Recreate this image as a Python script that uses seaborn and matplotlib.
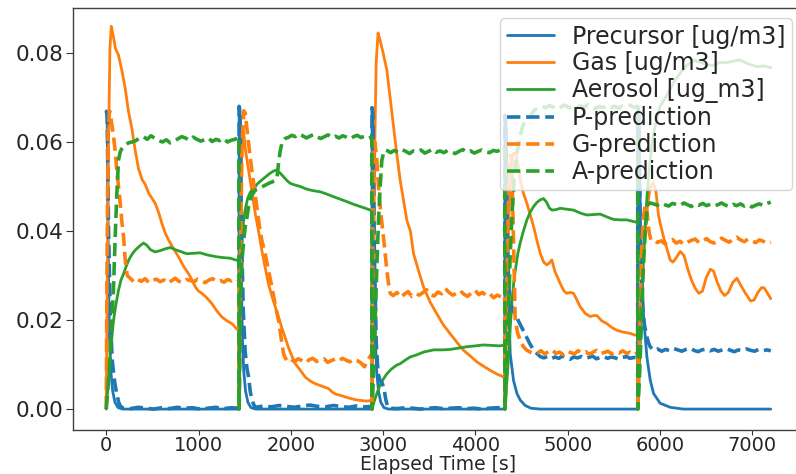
import numpy as np
import matplotlib
matplotlib.use("Agg")
import matplotlib.pyplot as plt
import seaborn as sns

sns.set_style("ticks")
plt.rcParams["font.family"] = ["DejaVu Sans"]

# ---- measured series (solid lines), all five 1440 s cycles ----
prec_t = [0, 10, 22, 35, 50, 70, 95, 130, 180, 1438,
          1440, 1450, 1462, 1475, 1490, 1510, 1535, 1570, 1620, 2878,
          2880, 2890, 2902, 2915, 2930, 2950, 2975, 3010, 3060, 4318,
          4320, 4332, 4345, 4377, 4413, 4450, 4486, 4540, 4600, 4700, 5758,
          5760, 5772, 5790, 5822, 5858, 5894, 5930, 6002, 6110, 6250, 7200]
prec_v = [0.067, 0.066, 0.035, 0.016, 0.0085, 0.004, 0.0015, 0.0003, 0.0, 0.0,
          0.068, 0.067, 0.035, 0.016, 0.0085, 0.004, 0.0015, 0.0003, 0.0, 0.0,
          0.0677, 0.066, 0.035, 0.016, 0.0085, 0.004, 0.0015, 0.0003, 0.0, 0.0,
          0.066, 0.064, 0.035, 0.0124, 0.0064, 0.0035, 0.002, 0.0008, 0.0002, 0.0, 0.0,
          0.068, 0.066, 0.04, 0.0207, 0.0117, 0.0065, 0.0035, 0.0013, 0.0004, 0.0, 0.0]

gas_t = [0, 12, 25, 40, 55, 75, 100, 133, 170, 206, 240, 278, 315, 350, 390, 422,
         460, 531, 570, 603, 640, 675, 730, 783, 840, 892, 930, 964, 1000, 1036,
         1080, 1145, 1200, 1253, 1310, 1361, 1415, 1438,
         1440, 1452, 1465, 1478, 1490, 1510, 1540, 1578, 1614, 1650, 1687, 1720,
         1759, 1800, 1831, 1870, 1903, 1940, 1975, 2010, 2048, 2100, 2156, 2210,
         2265, 2330, 2409, 2450, 2481, 2550, 2625, 2700, 2770, 2820, 2860, 2878,
         2880, 2895, 2910, 2925, 2945, 2965, 3000, 3040, 3075, 3113, 3150, 3185,
         3220, 3257, 3295, 3330, 3385, 3438, 3510, 3582, 3650, 3727, 3800, 3871,
         3940, 4016, 4090, 4160, 4230, 4305, 4318,
         4320, 4340, 4360, 4385, 4410, 4435, 4460, 4490, 4520, 4558, 4595, 4630,
         4665, 4702, 4740, 4774, 4800, 4828, 4860, 4919, 4960, 4991, 5030, 5063,
         5100, 5135, 5190, 5244, 5280, 5316, 5370, 5424, 5480, 5533, 5600, 5677,
         5731, 5758,
         5760, 5780, 5810, 5850, 5890, 5925, 5955, 5984, 6010, 6040, 6075, 6110,
         6140, 6175, 6220, 6260, 6300, 6340, 6380, 6420, 6460, 6500, 6545, 6580,
         6620, 6660, 6700, 6740, 6790, 6833, 6870, 6920, 6980, 7020, 7060, 7100,
         7130, 7165, 7200]
gas_v = [0.002, 0.03, 0.06, 0.081, 0.086, 0.084, 0.081, 0.0795, 0.076, 0.072, 0.067,
         0.063, 0.058, 0.054, 0.0515, 0.0505, 0.0485, 0.0462, 0.044, 0.0417, 0.0395,
         0.038, 0.036, 0.0342, 0.032, 0.0304, 0.029, 0.0275, 0.0265, 0.026, 0.0252,
         0.0237, 0.022, 0.0207, 0.0198, 0.0192, 0.018, 0.0176,
         0.0, 0.035, 0.055, 0.063, 0.062, 0.058, 0.054, 0.049, 0.044, 0.040, 0.0355,
         0.032, 0.028, 0.025, 0.023, 0.0205, 0.0182, 0.016, 0.0138, 0.012, 0.0102,
         0.0088, 0.0072, 0.0063, 0.0057, 0.0052, 0.0046, 0.0038, 0.0034, 0.003,
         0.0025, 0.0021, 0.0019, 0.0018, 0.0019, 0.0018,
         0.0, 0.03, 0.06, 0.078, 0.0845, 0.083, 0.080, 0.0762, 0.070, 0.0634, 0.057,
         0.0514, 0.047, 0.0424, 0.040, 0.0349, 0.031, 0.0274, 0.024, 0.0214, 0.019,
         0.0169, 0.015, 0.0132, 0.012, 0.0106, 0.0096, 0.0087, 0.0079, 0.0072, 0.0071,
         0.0, 0.025, 0.042, 0.054, 0.0575, 0.0575, 0.055, 0.051, 0.0485, 0.0462,
         0.0435, 0.041, 0.038, 0.035, 0.033, 0.0324, 0.0328, 0.0335, 0.031, 0.0282,
         0.0265, 0.026, 0.0262, 0.026, 0.0245, 0.023, 0.0215, 0.0208, 0.021, 0.021,
         0.0198, 0.0192, 0.0183, 0.0177, 0.0173, 0.017, 0.0166, 0.0166,
         0.0, 0.02, 0.03, 0.043, 0.0495, 0.051, 0.049, 0.0435, 0.041, 0.0385, 0.036,
         0.0335, 0.033, 0.034, 0.0354, 0.0345, 0.0315, 0.029, 0.0272, 0.026, 0.0265,
         0.0295, 0.0314, 0.031, 0.0285, 0.0265, 0.0255, 0.0262, 0.0285, 0.0294, 0.028,
         0.0262, 0.0243, 0.0245, 0.0262, 0.0273, 0.0272, 0.026, 0.0248]

aer_t = [0, 15, 30, 43, 60, 79, 105, 133, 160, 188, 215, 242, 280, 314, 360, 404,
         440, 480, 529, 585, 640, 693, 750, 819, 873, 940, 1018, 1100, 1199, 1280,
         1343, 1400, 1438,
         1440, 1445, 1452, 1465, 1480, 1507, 1535, 1561, 1600, 1633, 1670, 1705,
         1740, 1777, 1815, 1849, 1885, 1921, 1960, 1994, 2050, 2102, 2160, 2210,
         2260, 2319, 2390, 2463, 2530, 2608, 2680, 2752, 2810, 2860, 2878,
         2880, 2900, 2932, 2968, 3004, 3040, 3090, 3149, 3185, 3240, 3293, 3366,
         3438, 3546, 3640, 3727, 3820, 3907, 4000, 4088, 4180, 4269, 4318,
         4320, 4340, 4360, 4378, 4395, 4413, 4431, 4460, 4485, 4520, 4558, 4595,
         4630, 4665, 4702, 4738, 4770, 4800, 4829, 4870, 4919, 4990, 5063, 5140,
         5207, 5280, 5352, 5420, 5496, 5570, 5641, 5700, 5758,
         5760, 5775, 5790, 5805, 5820, 5840, 5860, 5880, 5910, 5950, 6000, 6074,
         6150, 6219, 6290, 6363, 6430, 6508, 6576, 6650, 6720, 6800, 6869, 6950,
         7053, 7120, 7200]
aer_v = [0.0, 0.004, 0.008, 0.0124, 0.016, 0.0199, 0.0235, 0.0267, 0.029, 0.0304,
         0.032, 0.0334, 0.0348, 0.0357, 0.0366, 0.0373, 0.0368, 0.0358, 0.0353,
         0.0356, 0.036, 0.0363, 0.0358, 0.0353, 0.0349, 0.035, 0.0351, 0.0346,
         0.0342, 0.034, 0.0339, 0.0335, 0.0334,
         0.0, 0.012, 0.026, 0.036, 0.041, 0.045, 0.0475, 0.0487, 0.0495, 0.0505,
         0.0512, 0.0518, 0.0524, 0.053, 0.0535, 0.0537, 0.053, 0.0522, 0.0513,
         0.0507, 0.0503, 0.05, 0.0495, 0.0492, 0.049, 0.0488, 0.0483, 0.0477,
         0.0472, 0.0466, 0.046, 0.0455, 0.0451, 0.0447, 0.0446,
         0.0, 0.0015, 0.0035, 0.0055, 0.0068, 0.0079, 0.009, 0.0099, 0.0102, 0.011,
         0.0117, 0.0122, 0.0128, 0.0133, 0.0133, 0.0134, 0.0137, 0.014, 0.0142,
         0.0144, 0.0143, 0.0142, 0.0144,
         0.0, 0.006, 0.012, 0.0185, 0.024, 0.028, 0.031, 0.035, 0.0373, 0.04,
         0.0425, 0.0443, 0.0455, 0.0464, 0.047, 0.0473, 0.0465, 0.0452, 0.0447,
         0.0448, 0.0451, 0.0449, 0.0447, 0.044, 0.0436, 0.0437, 0.0438, 0.0432,
         0.0426, 0.0425, 0.0425, 0.0422, 0.0419,
         0.0, 0.008, 0.017, 0.026, 0.034, 0.042, 0.048, 0.053, 0.059, 0.064, 0.068,
         0.0705, 0.0735, 0.0755, 0.0772, 0.0784, 0.078, 0.0773, 0.0772, 0.0779,
         0.0778, 0.0782, 0.0784, 0.0776, 0.0769, 0.0771, 0.0767]

# ---- predictions (dashed): per cycle a rising/falling head, then a noisy plateau ----
ppred_head_t = [[0, 10, 25, 45, 65, 80, 95, 115, 135, 155],
                [1440, 1450, 1465, 1485, 1505, 1525, 1542, 1560, 1580, 1600],
                [2880, 2890, 2905, 2925, 2945, 2965, 2990, 3010, 3030, 3050],
                [4320, 4330, 4345, 4360, 4377, 4413, 4449, 4485, 4522, 4558, 4594, 4630, 4666, 4702],
                [5760, 5770, 5785, 5804, 5830, 5858, 5876, 5894]]
ppred_head_v = [[0.067, 0.066, 0.040, 0.020, 0.011, 0.008, 0.0055, 0.0034, 0.0015, 0.0006],
                [0.068, 0.067, 0.040, 0.022, 0.013, 0.009, 0.0073, 0.004, 0.002, 0.0009],
                [0.0677, 0.066, 0.035, 0.015, 0.008, 0.0065, 0.0058, 0.0045, 0.002, 0.0005],
                [0.066, 0.064, 0.040, 0.028, 0.024, 0.022, 0.0205, 0.019, 0.0175, 0.016,
                 0.0145, 0.0133, 0.0125, 0.0118],
                [0.068, 0.066, 0.04, 0.0245, 0.019, 0.0162, 0.0148, 0.014]]
ppred_flat_span = [(180, 1438), (1620, 2878), (3070, 4318), (4740, 5758), (5930, 7200)]
ppred_flat_v = [
    [0.0003, 0.0001, 0.0004, 0.0002, 0.0, 0.0003, 0.0001, 0.0004, 0.0002, 0.0003,
     0.0, 0.0002, 0.0004, 0.0001, 0.0003, 0.0002],
    [0.0004, 0.0007, 0.0005, 0.0008, 0.0006, 0.0004, 0.0007, 0.0009, 0.0006, 0.0005,
     0.0008, 0.0006, 0.0004, 0.0007, 0.0005, 0.0006],
    [0.0002, 0.0001, 0.0003, 0.0002, 0.0, 0.0002, 0.0003, 0.0001, 0.0002, 0.0003,
     0.0001, 0.0002, 0.0, 0.0002, 0.0003, 0.0002],
    [0.0115, 0.0118, 0.0113, 0.0117, 0.0114, 0.0119, 0.0116, 0.0112, 0.0117, 0.0115,
     0.0118, 0.0114, 0.0116, 0.0119, 0.0113, 0.0116, 0.0118, 0.0114, 0.0117, 0.0115,
     0.0112, 0.0116, 0.0118, 0.0114, 0.0116, 0.0115],
    [0.0132, 0.0135, 0.0130, 0.0134, 0.0131, 0.0136, 0.0133, 0.0130, 0.0134, 0.0137,
     0.0132, 0.0129, 0.0133, 0.0135, 0.0131, 0.0134, 0.0130, 0.0133, 0.0136, 0.0132,
     0.0129, 0.0133, 0.0131, 0.0135, 0.0132, 0.0130, 0.0134, 0.0131, 0.0133, 0.0131]]

gpred_head_t = [[0, 8, 20, 35, 43, 60, 79, 97, 115, 133, 152, 170, 188, 200, 213, 228, 242, 270],
                [1440, 1455, 1470, 1490, 1506, 1540, 1578, 1615, 1650, 1685, 1722, 1760,
                 1795, 1830, 1867, 1895, 1921, 1940],
                [2880, 2888, 2896, 2910, 2932, 2950, 2968, 2986, 3004, 3022, 3040, 3060, 3077],
                [4320, 4340, 4360, 4380, 4395, 4410, 4431, 4458, 4485, 4520, 4558, 4595, 4630],
                [5760, 5780, 5800, 5820, 5840, 5860, 5880, 5900]]
gpred_head_v = [[0.0, 0.03, 0.062, 0.067, 0.0665, 0.064, 0.0612, 0.058, 0.0536, 0.050,
                 0.0462, 0.042, 0.0387, 0.035, 0.032, 0.030, 0.0297, 0.0292],
                [0.0, 0.035, 0.058, 0.067, 0.0665, 0.060, 0.0536, 0.048, 0.0424, 0.038,
                 0.0349, 0.031, 0.0274, 0.0235, 0.0199, 0.016, 0.0124, 0.0115],
                [0.0, 0.04, 0.059, 0.060, 0.0559, 0.050, 0.0454, 0.042, 0.0387, 0.035,
                 0.0312, 0.028, 0.026],
                [0.0, 0.03, 0.05, 0.057, 0.055, 0.040, 0.0201, 0.017, 0.0155, 0.014,
                 0.0132, 0.0128, 0.0125],
                [0.0, 0.02, 0.035, 0.043, 0.046, 0.044, 0.040, 0.038]]
gpred_flat_span = [(300, 1438), (1960, 2878), (3110, 4318), (4670, 5758), (5930, 7200)]
gpred_flat_v = [
    [0.0285, 0.0291, 0.0287, 0.0293, 0.0284, 0.0289, 0.0292, 0.0286, 0.0290, 0.0283,
     0.0288, 0.0294, 0.0287, 0.0285, 0.0291, 0.0289, 0.0286, 0.0292, 0.0288, 0.0284,
     0.0290, 0.0293, 0.0287, 0.0289, 0.0285, 0.0291, 0.0288, 0.0293, 0.0290],
    [0.0108, 0.0112, 0.0106, 0.0113, 0.0109, 0.0104, 0.0111, 0.0114, 0.0107, 0.0110,
     0.0113, 0.0105, 0.0109, 0.0112, 0.0108, 0.0114, 0.0110, 0.0106, 0.0112, 0.0109,
     0.0104, 0.0095, 0.0112, 0.0124],
    [0.0255, 0.0262, 0.0251, 0.0258, 0.0264, 0.0253, 0.0259, 0.0256, 0.0262, 0.0268,
     0.0257, 0.0254, 0.0263, 0.0259, 0.0271, 0.0262, 0.0256, 0.0260, 0.0266, 0.0258,
     0.0253, 0.0261, 0.0267, 0.0257, 0.0262, 0.0255, 0.0259, 0.0250, 0.0256, 0.0252,
     0.0254],
    [0.0126, 0.0131, 0.0124, 0.0129, 0.0133, 0.0125, 0.0128, 0.0122, 0.0130, 0.0127,
     0.0124, 0.0131, 0.0126, 0.0129, 0.0123, 0.0128, 0.0132, 0.0125, 0.0127, 0.0130,
     0.0124, 0.0129, 0.0126, 0.0131, 0.0125, 0.0128, 0.0122, 0.0127],
    [0.0380, 0.0374, 0.0378, 0.0371, 0.0376, 0.0381, 0.0373, 0.0377, 0.0370, 0.0375,
     0.0379, 0.0382, 0.0374, 0.0377, 0.0383, 0.0376, 0.0373, 0.0378, 0.0384, 0.0379,
     0.0375, 0.0381, 0.0386, 0.0380, 0.0376, 0.0382, 0.0378, 0.0374, 0.0380, 0.0377,
     0.0372, 0.0375]]

apred_head_t = [[0, 20, 43, 60, 79, 97, 115, 133, 152, 169, 188, 206, 240, 280],
                [1440, 1448, 1456, 1470, 1490, 1506, 1524, 1542, 1560, 1578, 1614, 1650,
                 1687, 1723, 1759, 1795, 1831, 1850, 1867, 1885, 1903, 1921, 1939],
                [2880, 2896, 2914, 2932, 2950, 2968, 2986, 3004, 3022, 3050],
                [4320, 4340, 4360, 4377, 4400, 4420, 4449, 4480, 4520, 4558, 4600, 4640],
                [5760, 5775, 5790, 5805, 5820, 5840, 5860, 5876, 5894]]
apred_head_v = [[0.0, 0.005, 0.0124, 0.019, 0.0274, 0.0387, 0.0484, 0.0559, 0.0578,
                 0.0585, 0.059, 0.0593, 0.0598, 0.060],
                [0.0, 0.012, 0.025, 0.033, 0.038, 0.041, 0.043, 0.0455, 0.047, 0.048,
                 0.0492, 0.0495, 0.0499, 0.0503, 0.0507, 0.051, 0.0514, 0.052, 0.0552,
                 0.058, 0.0597, 0.0604, 0.0608],
                [0.0, 0.008, 0.02, 0.032, 0.0424, 0.050, 0.0559, 0.0575, 0.0582, 0.058],
                [0.0, 0.01, 0.022, 0.0349, 0.045, 0.052, 0.0574, 0.061, 0.064, 0.0649,
                 0.066, 0.0672],
                [0.0, 0.006, 0.014, 0.024, 0.032, 0.040, 0.045, 0.0462, 0.0463]]
apred_flat_span = [(320, 1438), (1970, 2878), (3080, 4318), (4680, 5758), (5930, 7200)]
apred_flat_v = [
    [0.0603, 0.0609, 0.0612, 0.0606, 0.0614, 0.0608, 0.0603, 0.0600, 0.0605, 0.0598,
     0.0601, 0.0607, 0.0612, 0.0609, 0.0604, 0.0611, 0.0606, 0.0602, 0.0605, 0.0609,
     0.0601, 0.0606, 0.0603, 0.0608, 0.0600, 0.0604, 0.0606, 0.0612],
    [0.0610, 0.0615, 0.0612, 0.0618, 0.0614, 0.0609, 0.0613, 0.0617, 0.0611, 0.0608,
     0.0612, 0.0616, 0.0610, 0.0613, 0.0609, 0.0614, 0.0611, 0.0607, 0.0612, 0.0615,
     0.0610, 0.0613, 0.0608, 0.0611],
    [0.0576, 0.0581, 0.0577, 0.0583, 0.0579, 0.0574, 0.0580, 0.0578, 0.0582, 0.0575,
     0.0579, 0.0584, 0.0577, 0.0580, 0.0576, 0.0581, 0.0578, 0.0574, 0.0579, 0.0583,
     0.0577, 0.0580, 0.0575, 0.0579, 0.0582, 0.0578, 0.0576, 0.0581, 0.0579, 0.0583,
     0.0587],
    [0.0676, 0.0680, 0.0677, 0.0682, 0.0678, 0.0674, 0.0679, 0.0683, 0.0677, 0.0680,
     0.0676, 0.0681, 0.0678, 0.0684, 0.0679, 0.0675, 0.0680, 0.0677, 0.0682, 0.0678,
     0.0680, 0.0676, 0.0681, 0.0679, 0.0683, 0.0678, 0.0680],
    [0.0461, 0.0458, 0.0463, 0.0459, 0.0456, 0.0462, 0.0460, 0.0457, 0.0463, 0.0459,
     0.0455, 0.0461, 0.0458, 0.0462, 0.0457, 0.0460, 0.0456, 0.0459, 0.0463, 0.0458,
     0.0455, 0.0460, 0.0457, 0.0461, 0.0456, 0.0459, 0.0454, 0.0458, 0.0461, 0.0457,
     0.0462, 0.0465]]


def join_cycles(head_t, head_v, spans, flat_v):
    t, v = [], []
    for ht, hv, (a, b), fv in zip(head_t, head_v, spans, flat_v):
        t += list(ht) + list(np.linspace(a, b, len(fv)))
        v += list(hv) + list(fv)
    return np.array(t), np.array(v)


ppred_t, ppred_v = join_cycles(ppred_head_t, ppred_head_v, ppred_flat_span, ppred_flat_v)
gpred_t, gpred_v = join_cycles(gpred_head_t, gpred_head_v, gpred_flat_span, gpred_flat_v)
apred_t, apred_v = join_cycles(apred_head_t, apred_head_v, apred_flat_span, apred_flat_v)

fig = plt.figure(figsize=(7.96, 4.74), dpi=100)
ax = fig.add_axes([73 / 796, 44 / 474, 731 / 796, 422 / 474])

blue, orange, green = "#1f77b4", "#ff7f0e", "#2ca02c"
solid_lw, dash_lw = 2.0, 2.6

sns.lineplot(x=prec_t, y=prec_v, ax=ax, color=blue, lw=solid_lw, sort=False,
             estimator=None, label="Precursor [ug/m3]")
sns.lineplot(x=gas_t, y=gas_v, ax=ax, color=orange, lw=solid_lw, sort=False,
             estimator=None, label="Gas [ug/m3]")
sns.lineplot(x=aer_t, y=aer_v, ax=ax, color=green, lw=solid_lw, sort=False,
             estimator=None, label="Aerosol [ug_m3]")
sns.lineplot(x=ppred_t, y=ppred_v, ax=ax, color=blue, lw=dash_lw, linestyle="--",
             sort=False, estimator=None, label="P-prediction")
sns.lineplot(x=gpred_t, y=gpred_v, ax=ax, color=orange, lw=dash_lw, linestyle="--",
             sort=False, estimator=None, label="G-prediction")
sns.lineplot(x=apred_t, y=apred_v, ax=ax, color=green, lw=dash_lw, linestyle="--",
             sort=False, estimator=None, label="A-prediction")

ax.set_xlim(-360, 7560)
ax.set_ylim(-0.0047, 0.0901)
ax.set_xticks([0, 1000, 2000, 3000, 4000, 5000, 6000, 7000])
ax.set_yticks([0.0, 0.02, 0.04, 0.06, 0.08])
ax.set_yticklabels(["0.00", "0.02", "0.04", "0.06", "0.08"])
ax.tick_params(axis="y", labelsize=15.5, length=5, pad=2, color="0.2")
ax.tick_params(axis="x", labelsize=14, length=3.5, pad=0.5, color="0.2")
ax.set_xlabel("Elapsed Time [s]", fontsize=13.5, labelpad=0)
ax.set_ylabel("")
for s in ax.spines.values():
    s.set_color("0.25")
    s.set_linewidth(1.0)

# legend box: right edge ~792 px, top ~18 px in the reference
ax.legend(loc="upper right", bbox_to_anchor=(0.9836, 0.9763), borderaxespad=0,
          fontsize=17, labelspacing=0.12, handlelength=2.0, handletextpad=0.75,
          borderpad=0.28, framealpha=0.8)

fig.savefig("out.png", dpi=100)
